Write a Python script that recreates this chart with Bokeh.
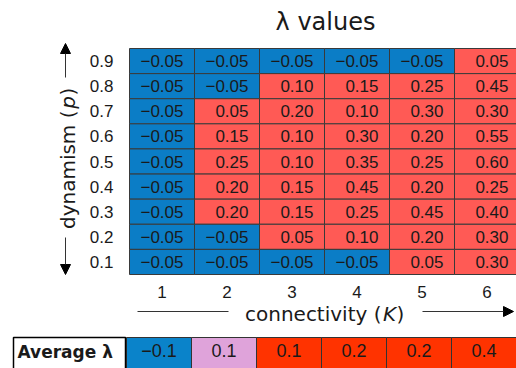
import math
from bokeh.plotting import figure
from bokeh.models import Range1d, Arrow, NormalHead, ColumnDataSource
from bokeh.embed import file_html
from bokeh.resources import INLINE
from bokeh.core.properties import value

# ---- data ----
K_values = [1, 2, 3, 4, 5, 6]
p_values = [0.9, 0.8, 0.7, 0.6, 0.5, 0.4, 0.3, 0.2, 0.1]
lambda_rows = [
    [-0.05, -0.05, -0.05, -0.05, -0.05, 0.05],   # p = 0.9
    [-0.05, -0.05, 0.10, 0.15, 0.25, 0.45],      # p = 0.8
    [-0.05, 0.05, 0.20, 0.10, 0.30, 0.30],       # p = 0.7
    [-0.05, 0.15, 0.10, 0.30, 0.20, 0.55],       # p = 0.6
    [-0.05, 0.25, 0.10, 0.35, 0.25, 0.60],       # p = 0.5
    [-0.05, 0.20, 0.15, 0.45, 0.20, 0.25],       # p = 0.4
    [-0.05, 0.20, 0.15, 0.25, 0.45, 0.40],       # p = 0.3
    [-0.05, -0.05, 0.05, 0.10, 0.20, 0.30],      # p = 0.2
    [-0.05, -0.05, -0.05, -0.05, 0.05, 0.30],    # p = 0.1
]
avg_lambda = [-0.1, 0.1, 0.1, 0.2, 0.2, 0.4]
avg_colors = ["#0A83CA", "#DFA3DA", "#FF3300", "#FF3300", "#FF3300", "#FF3300"]
tick_labels_x = ["1", "2", "3", "4", "5", "6"]
tick_labels_y = ["0.9", "0.8", "0.7", "0.6", "0.5", "0.4", "0.3", "0.2", "0.1"]

NEG_COLOR = "#0B7DC6"
POS_COLOR = "#FF5A55"
TXT = "#1a1a1a"

W, H = 516, 368
# scale: 65 px per K unit, heatmap left edge at px 129; rows 0.1 apart over 226 px, top at px 48
PX_X = 65.0
PX_Y = 226 / 0.9
def dx(px):
    return 0.5 + (px - 129) / PX_X
def dy(py):
    return 0.95 - (py - 48) / PX_Y

def fmt(v, digits):
    return f"{v:.{digits}f}".replace("-", "\u2212")

xs, ys, cols, labs = [], [], [], []
for p, row in zip(p_values, lambda_rows):
    for k, v in zip(K_values, row):
        xs.append(k)
        ys.append(p)
        cols.append(NEG_COLOR if v < 0 else POS_COLOR)
        labs.append(fmt(v, 2))
src = ColumnDataSource(dict(k=xs, p=ys, color=cols, label=labs, right=[k + 0.5 for k in xs]))

p = figure(width=W, height=H, x_range=Range1d(dx(0), dx(W)), y_range=Range1d(dy(H), dy(0)),
           output_backend="svg", toolbar_location=None, min_border=0,
           x_axis_location=None, y_axis_location=None)
p.outline_line_color = None
p.grid.visible = False
p.background_fill_color = "white"
p.border_fill_color = "white"

# heatmap cells
p.rect(x="k", y="p", width=1, height=0.1, fill_color="color", line_color="#3a3a3a",
       line_width=1, source=src)
p.text(x="right", y="p", text="label", x_offset=-11, text_align="right", text_baseline="middle",
       text_font=value("Liberation Sans"), text_font_size="17px", text_color=TXT, source=src)

# tick labels (from the data arrays, positioned by the data scale)
p.text(x=[0.5] * len(p_values), y=p_values, text=tick_labels_y, x_offset=-16,
       text_align="right", text_baseline="middle", text_font=value("Liberation Sans"),
       text_font_size="17px", text_color=TXT)
p.text(x=K_values, y=[0.05] * len(K_values), text=tick_labels_x, y_offset=17,
       text_align="center", text_baseline="middle", text_font=value("Liberation Sans"),
       text_font_size="17px", text_color=TXT)

# title
p.text(x=[dx(325)], y=[dy(21)], text=["\u03bb values"], text_align="center",
       text_baseline="middle", text_font=value("DejaVu Sans"), text_font_size="24px",
       text_color=TXT)

# x axis label: connectivity (K)
lab_font = value("DejaVu Sans")
p.text(x=[dx(381)], y=[dy(313)], text=["connectivity ("], text_align="right",
       text_baseline="middle", text_font=lab_font, text_font_size="20px", text_color=TXT)
p.text(x=[dx(389)], y=[dy(313)], text=["K"], text_align="center", text_baseline="middle",
       text_font=lab_font, text_font_size="20px", text_font_style="italic", text_color=TXT)
p.text(x=[dx(396)], y=[dy(313)], text=[")"], text_align="left", text_baseline="middle",
       text_font=lab_font, text_font_size="20px", text_color=TXT)

# y axis label: dynamism (p), rotated
ang = math.pi / 2
p.text(x=[dx(67)], y=[dy(110)], text=["dynamism ("], angle=ang, text_align="right",
       text_baseline="middle", text_font=lab_font, text_font_size="20px", text_color=TXT)
p.text(x=[dx(67)], y=[dy(102)], text=["p"], angle=ang, text_align="center",
       text_baseline="middle", text_font=lab_font, text_font_size="20px",
       text_font_style="italic", text_color=TXT)
p.text(x=[dx(67)], y=[dy(95)], text=[")"], angle=ang, text_align="left",
       text_baseline="middle", text_font=lab_font, text_font_size="20px", text_color=TXT)

# decorative arrows beside the axis labels
def head():
    return NormalHead(size=10, fill_color="black", line_color="black", line_width=1)
arrow_kw = dict(line_width=1, line_color="#333333")
p.add_layout(Arrow(end=head(), x_start=dx(65), y_start=dy(77), x_end=dx(65), y_end=dy(43), **arrow_kw))
p.add_layout(Arrow(end=head(), x_start=dx(65), y_start=dy(237), x_end=dx(65), y_end=dy(274), **arrow_kw))
p.add_layout(Arrow(end=None, x_start=dx(137), y_start=dy(311), x_end=dx(228), y_end=dy(311), **arrow_kw))
p.add_layout(Arrow(end=head(), x_start=dx(422), y_start=dy(311), x_end=dx(513), y_end=dy(311), **arrow_kw))

# ---- average lambda table ----
t_top, t_bot = dy(337), dy(375)
t_cy, t_h = (t_top + t_bot) / 2, t_top - t_bot
shift = 3 / PX_X
tsrc = ColumnDataSource(dict(x=[k - shift for k in K_values], color=avg_colors,
                             label=[fmt(v, 1) for v in avg_lambda]))
p.rect(x="x", y=t_cy, width=1, height=t_h, fill_color="color", line_color="#333333",
       line_width=1, source=tsrc)
hdr_l, hdr_r = dx(13), dx(125)
p.rect(x=[(hdr_l + hdr_r) / 2], y=[t_cy], width=hdr_r - hdr_l, height=t_h, fill_color="white",
       line_color="black", line_width=1.5)
p.text(x="x", y=dy(350), text="label", text_align="center", text_baseline="middle",
       text_font=value("Liberation Sans"), text_font_size="18px", text_color=TXT, source=tsrc)
p.text(x=[hdr_l], y=[dy(351)], text=["Average \u03bb"], x_offset=4, text_align="left",
       text_baseline="middle", text_font=value("DejaVu Sans"), text_font_size="17px",
       text_font_style="bold", text_color=TXT)

open("out.html", "w").write(file_html(p, INLINE))
